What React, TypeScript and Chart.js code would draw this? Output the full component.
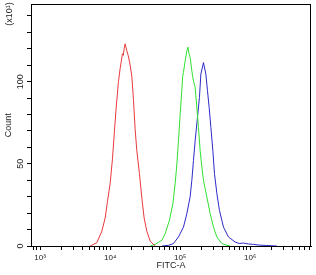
import { useEffect, useRef } from 'react';
import { Chart, registerables } from 'chart.js';

Chart.register(...registerables);

// FITC-A channel values (x) and counts (x10^1)
const redFitc = [5180, 6460, 7610, 8480, 9150, 10000, 10790, 11520, 12180, 13140, 13890, 14990, 15400, 15850, 16380, 17210, 18080, 19310, 20430, 21540, 22760, 24040, 26220, 28380, 30600, 33440, 37280, 43940];
const redCount = [0, 2, 9, 17, 27, 38, 53, 70, 84, 100, 108, 117, 116, 120, 123, 119, 116, 110, 103, 89, 71, 58, 44, 29, 17, 9, 3, 0];

const greenFitc = [37280, 43940, 54840, 61050, 70260, 78700, 84840, 89790, 94590, 100000, 105600, 108500, 111500, 117900, 123800, 128800, 134000, 138900, 146900, 151000, 155000, 163800, 173200, 182500, 193100, 204300, 215400, 240300, 268300, 299300, 334400, 394500, 465100, 520000];
const greenCount = [0, 1, 3.5, 7.5, 15.6, 25.7, 38, 50, 64, 80, 94.5, 103, 105.6, 112.7, 118, 121, 117, 114.7, 106.6, 103, 100.5, 96.5, 84.3, 72.2, 58, 48, 40, 30, 19.7, 11.5, 5.5, 1.5, 0.4, 0];

const blueFitc = [55000, 68100, 80170, 94590, 111500, 124700, 138900, 146900, 155000, 163800, 176600, 188600, 197700, 215400, 232800, 245600, 259500, 274600, 293300, 309300, 334400, 363900, 415800, 489800, 610500, 700000, 801900, 950000, 1114000, 1300000, 1733000, 2404000];
const blueCount = [0, 0.4, 1.5, 5.5, 11.5, 19.7, 30, 40, 52, 64, 78, 90.4, 104.6, 111.6, 104.6, 94.5, 84.3, 72.2, 58, 44, 32, 21.7, 11.5, 5.5, 2.4, 1.5, 1.8, 1.2, 1, 0.6, 0.3, 0];

const xDecades = [1e3, 1e4, 1e5, 1e6];
const xDecadeLabels = ['10³', '10⁴', '10⁵', '10⁶'];
const yTickValues = [0, 10, 20, 30, 40, 50, 60, 70, 80, 90, 100, 110, 120, 130, 140];
const yLabelValues = [0, 50, 100];
const xMin = 740;
const xMax = 7.4e6;
const yMax = 147;

const FONT = '"Liberation Sans", Arial, sans-serif';
const TEXT = '#222';

export default function App() {
  const ref = useRef<HTMLCanvasElement>(null);

  useEffect(() => {
    if (!ref.current) return;
    const toPts = (xs: number[], ys: number[]) => xs.map((x, i) => ({ x, y: ys[i] }));

    const xTicks: { value: number }[] = [];
    for (let n = 2; n <= 6; n++) {
      for (let k = 1; k <= 9; k++) {
        const v = k * Math.pow(10, n);
        if (v >= xMin && v <= xMax) xTicks.push({ value: v });
      }
    }

    const framePlugin = {
      id: 'frame',
      afterDraw(chart: any) {
        const { ctx, chartArea: a } = chart;
        ctx.save();
        ctx.strokeStyle = '#000';
        ctx.lineWidth = 1;
        ctx.beginPath();
        ctx.moveTo(Math.round(a.left), Math.round(a.top) + 0.5);
        ctx.lineTo(Math.round(a.right), Math.round(a.top) + 0.5);
        ctx.moveTo(Math.round(a.right) - 0.5, Math.round(a.top));
        ctx.lineTo(Math.round(a.right) - 0.5, Math.round(a.bottom));
        ctx.stroke();
        ctx.fillStyle = TEXT;
        ctx.font = '9px ' + FONT;
        ctx.translate(10, 14);
        ctx.rotate(-Math.PI / 2);
        ctx.textAlign = 'center';
        ctx.textBaseline = 'middle';
        ctx.fillText('(x10¹)', 0, 0);
        ctx.restore();
      },
    };

    const chart = new Chart(ref.current, {
      type: 'line',
      data: {
        datasets: [
          { data: toPts(redFitc, redCount), borderColor: '#e8393c' },
          { data: toPts(greenFitc, greenCount), borderColor: '#2fe02f' },
          { data: toPts(blueFitc, blueCount), borderColor: '#2b2bc8' },
        ],
      },
      options: {
        responsive: false,
        animation: false,
        layout: { padding: { top: 3, right: 5, left: 0, bottom: 0 } },
        elements: {
          point: { radius: 0 },
          line: { borderWidth: 1, tension: 0, fill: false },
        },
        plugins: { legend: { display: false }, tooltip: { enabled: false } },
        scales: {
          x: {
            type: 'logarithmic',
            min: xMin,
            max: xMax,
            afterBuildTicks: (s: any) => {
              s.ticks = xTicks.map((t) => ({ ...t }));
            },
            afterFit: (s: any) => {
              s.height = 29;
            },
            ticks: {
              autoSkip: false,
              minRotation: 0,
              maxRotation: 0,
              padding: 3,
              color: TEXT,
              font: { family: FONT, size: 8 },
              callback: (v: any) => {
                const i = xDecades.findIndex((d) => Math.abs(d - Number(v)) < 1e-6 * d);
                return i >= 0 ? xDecadeLabels[i] : '';
              },
            },
            grid: { drawOnChartArea: false, drawTicks: true, tickLength: 4, color: '#000' },
            border: { color: '#000', width: 1 },
            title: {
              display: true,
              text: 'FITC-A',
              color: TEXT,
              font: { family: FONT, size: 9 },
              padding: { top: 0, bottom: 4 },
            },
          },
          y: {
            type: 'linear',
            min: 0,
            max: yMax,
            afterBuildTicks: (s: any) => {
              s.ticks = yTickValues.map((v) => ({ value: v }));
            },
            afterFit: (s: any) => {
              s.width = 31;
            },
            ticks: {
              autoSkip: false,
              minRotation: 90,
              maxRotation: 90,
              crossAlign: 'center',
              padding: -1,
              color: TEXT,
              font: { family: FONT, size: 9 },
              callback: (v: any) => (yLabelValues.includes(Number(v)) ? String(v) : ''),
            },
            grid: { drawOnChartArea: false, drawTicks: true, tickLength: 4, color: '#000' },
            border: { color: '#000', width: 1 },
            title: {
              display: true,
              text: 'Count',
              color: TEXT,
              font: { family: FONT, size: 9 },
              padding: { top: 3, bottom: 0 },
            },
          },
        },
      },
      plugins: [framePlugin],
    } as any);

    return () => chart.destroy();
  }, []);

  return (
    <canvas
      ref={ref}
      width={316}
      height={275}
      style={{ position: 'absolute', left: 0, top: 0, width: 316, height: 275, background: '#fff' }}
    />
  );
}
